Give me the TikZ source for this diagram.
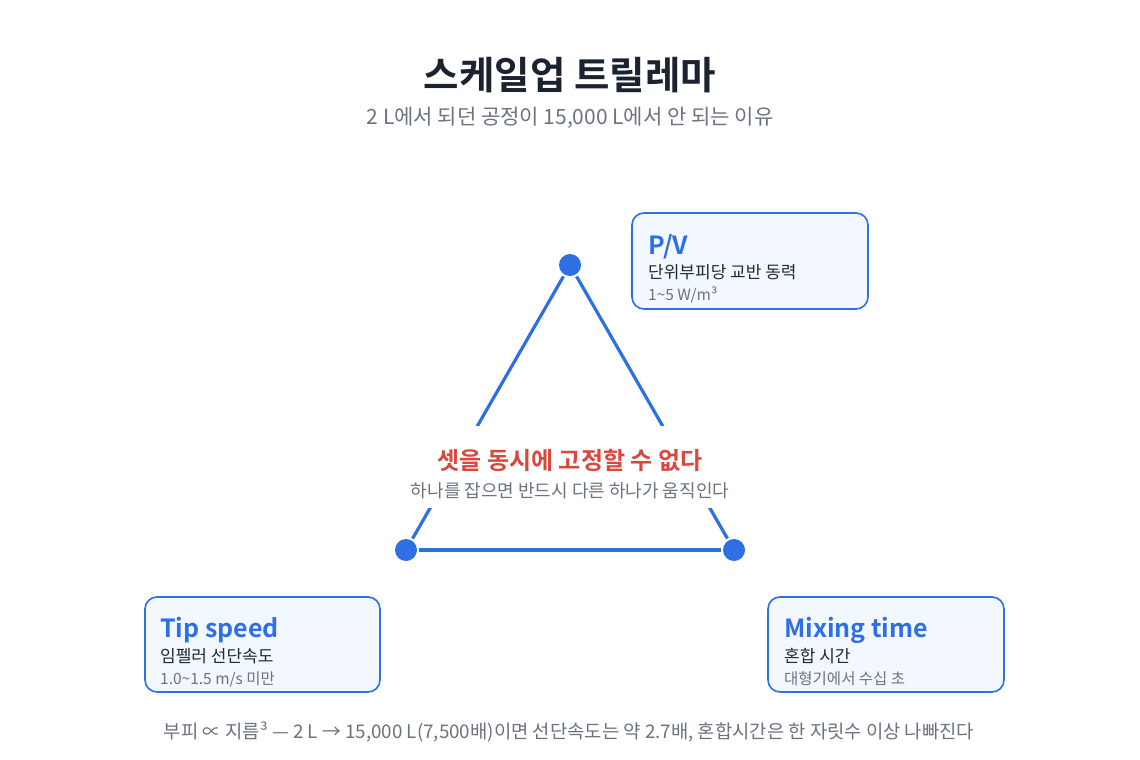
\documentclass[tikz,border=0pt]{standalone}
\usepackage{fontspec}
\setmainfont{Noto Sans CJK KR}
\newfontfamily\krbold{Noto Sans CJK KR Bold}
\definecolor{blueA}{HTML}{2F6FE4}
\definecolor{boxfill}{HTML}{F3F7FE}
\definecolor{titlec}{HTML}{1B2230}
\definecolor{greyc}{HTML}{6B7280}
\definecolor{redc}{HTML}{D9483F}
\definecolor{darkc}{HTML}{1F2937}
\begin{document}
\begin{tikzpicture}[x=1pt,y=-1pt,
  vertex/.style={circle,fill=blueA,minimum size=22pt,inner sep=0pt},
  edge/.style={draw=blueA,line width=3.2pt,shorten >=2pt,shorten <=2pt},
  infobox/.style={draw=blueA,line width=1.6pt,fill=boxfill,rounded corners=12pt,minimum width=#1,minimum height=95pt,inner sep=0pt},
  boxtitle/.style={anchor=base west,text=blueA,font=\krbold\fontsize{25}{29}\selectfont,inner sep=0pt},
  boxsub/.style={anchor=base west,text=darkc,font=\fontsize{17}{20}\selectfont,inner sep=0pt},
  boxnote/.style={anchor=base west,text=greyc,font=\fontsize{15.5}{18}\selectfont,inner sep=0pt}
]
\useasboundingbox[fill=white] (0,0) rectangle (1140,760);

% title
\node[text=titlec,font=\krbold\fontsize{38.5}{44}\selectfont,anchor=base,inner sep=0pt] (title) at (570,89) {스케일업 트릴레마};
\node[text=greyc,font=\fontsize{21}{25}\selectfont,anchor=base,inner sep=0pt] (subtitle) at (570,124) {2 L에서 되던 공정이 15,000 L에서 안 되는 이유};

% triangle
\node[vertex] (top) at (570,265) {};
\node[vertex] (left) at (406,550) {};
\node[vertex] (right) at (734,550) {};
\draw[edge] (top) -- (left);
\draw[edge] (top) -- (right);
\draw[edge] (left) -- (right);

% center message (white backing hides the lines)
\node[fill=white,minimum width=290pt,minimum height=82pt,inner sep=0pt] (centerbg) at (570,467) {};
\node[text=redc,font=\krbold\fontsize{24}{28}\selectfont,anchor=base,inner sep=0pt] (msg) at (570,469) {셋을 동시에 고정할 수 없다};
\node[text=greyc,font=\fontsize{18}{21}\selectfont,anchor=base,inner sep=0pt] (msgsub) at (570,497) {하나를 잡으면 반드시 다른 하나가 움직인다};

% P/V box
\node[infobox=236pt,minimum height=96pt] (pv) at (750,261) {};
\node[boxtitle] (pvt) at (648,254) {P/V};
\node[boxsub] (pvs) at (648,278) {단위부피당 교반 동력};
\node[boxnote] (pvn) at (648,300) {1\textasciitilde5 W/m³};

% Tip speed box
\node[infobox=235pt] (tip) at (262.5,644.5) {};
\node[boxtitle] (tipt) at (160,637) {Tip speed};
\node[boxsub] (tips) at (160,662) {임펠러 선단속도};
\node[boxnote] (tipn) at (160,684) {1.0\textasciitilde1.5 m/s 미만};

% Mixing time box
\node[infobox=236pt] (mix) at (886,644.5) {};
\node[boxtitle] (mixt) at (784,637) {Mixing time};
\node[boxsub] (mixs) at (784,662) {혼합 시간};
\node[boxnote] (mixn) at (784,684) {대형기에서 수십 초};

% footer
\node[text=greyc,font=\fontsize{18.8}{22}\selectfont,anchor=base,inner sep=0pt] (footer) at (569,738) {부피 ∝ 지름³ — 2 L → 15,000 L(7,500배)이면 선단속도는 약 2.7배, 혼합시간은 한 자릿수 이상 나빠진다};
\end{tikzpicture}
\end{document}
